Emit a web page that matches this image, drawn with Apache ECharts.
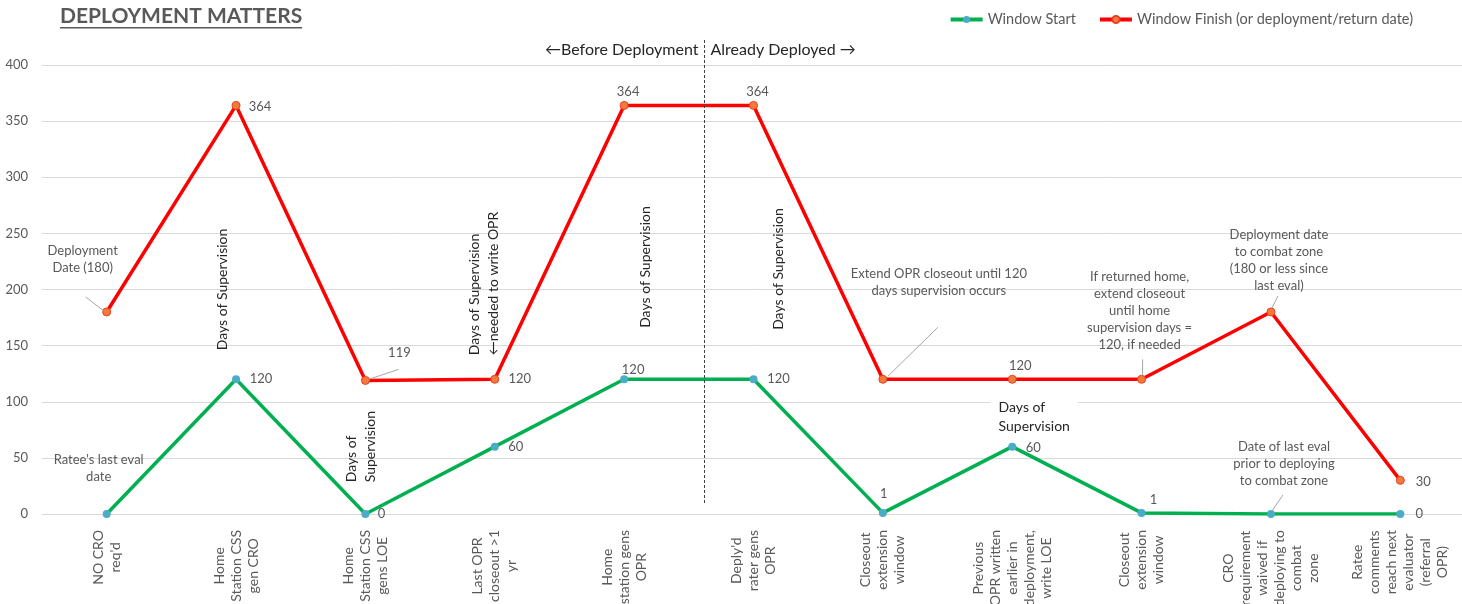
<!DOCTYPE html>
<html><head><meta charset="utf-8">
<script src="https://cdn.jsdelivr.net/npm/echarts@6/dist/echarts.min.js"></script>
<style>html,body{margin:0;padding:0;background:#fff}#c{width:1462px;height:604px}</style>
</head><body><div id="c"></div>
<script>
// ---------- data ----------
const categories = ["NO CRO\nreq'd", "Home\nStation CSS\ngen CRO", "Home\nStation CSS\ngens LOE", "Last OPR\ncloseout >1\nyr", "Home\nstation gens\nOPR", "Deply'd\nrater gens\nOPR", "Closeout\nextension\nwindow", "Previous\nOPR written\nearlier in\ndeployment,\nwrite LOE", "Closeout\nextension\nwindow", "CRO\nrequirement\nwaived if\ndeploying to\ncombat\nzone", "Ratee\ncomments\nreach next\nevaluator\n(referral\nOPR)"];
const startValues = [0, 120, 0, 60, 120, 120, 1, 60, 1, 0, 0];
const finishValues = [180, 364, 119, 120, 364, 364, 120, 120, 120, 180, 30];
const startNotes = ["Ratee's last eval\ndate", null, null, null, null, null, null, null, null, "Date of last eval\nprior to deploying\nto combat zone", null];
const finishNotes = ["Deployment\nDate (180)", null, null, null, null, null, "Extend OPR closeout until 120\ndays supervision occurs", null, "If returned home,\nextend closeout\nuntil home\nsupervision days =\n120, if needed", "Deployment date\nto combat zone\n(180 or less since\nlast eval)", null];
const yTicks = { min: 0, max: 400, interval: 50 };
const seriesNames = ["Window Start", "Window Finish (or deployment/return date)"];
const titleText = "DEPLOYMENT MATTERS";
const supervisionNotes = ["Days of Supervision", "Days of\nSupervision", "Days of Supervision\n←needed to write OPR", "Days of Supervision", "Days of Supervision", "Days of\nSupervision"];
const phaseTexts = ["←Before Deployment", "Already Deployed →"];

// ---------- layout / style (not data) ----------
const FONT = 'Lato, "Open Sans", sans-serif';
const GRAY = '#595959';
const startLabelOffsets = [[-8,-46],[25,0],[16,0],[21,0],[9,-9],[25,0],[1,-19],[21,1],[12,-13],[13,-50],[19,0]];
const finishLabelOffsets = [[-24,-53],[24,1],[34,-28],[25,0],[4,-14],[4,-14],[56,-97],[8,-13],[-2,-68],[8,-52],[23,1]];
// leader lines: [series (0 start / 1 finish), category index, from dx, from dy, to dx, to dy] (pixels from the point)
const leaderLayout = [[1,0,-3,-1,-21,-15],[1,2,3,-1,33,-11],[1,6,5,-3,55,-52],[1,8,1,-4,1,-20],[1,9,1,-4,7,-16],[0,9,1,-3,12,-19]];
// annotation anchors: [category index, value, dx, dy, rotated]
const noteAnchors = [[1,200,-14,0,true],[2,60,-4,0,true],[3,200,-10.5,-6,true],[4,220,21,0,true],[5,220,25,2,true],[7,85,22,-2,false]];

function buildData(values, notes, offsets) {
  return values.map((v, i) => ({
    value: v,
    label: { show: true, position: 'inside', offset: offsets[i],
             formatter: notes[i] != null ? notes[i] : String(v) }
  }));
}

const chart = echarts.init(document.getElementById('c'));
const labelStyle = { color: GRAY, fontSize: 13, fontFamily: FONT, lineHeight: 17 };
chart.setOption({
  animation: false,
  backgroundColor: '#fff',
  textStyle: { fontFamily: FONT },
  legend: {
    data: seriesNames, right: 44, top: 7, itemWidth: 32, itemHeight: 9, itemGap: 22,
    lineStyle: { width: 4 },
    textStyle: { color: GRAY, fontSize: 14.5, fontFamily: FONT }
  },
  grid: { left: 42, right: -3, top: 65, bottom: 90, containLabel: false, outerBoundsMode: 'none' },
  xAxis: {
    type: 'category', data: categories, boundaryGap: true,
    axisLine: { show: false }, axisTick: { show: false },
    axisLabel: {
      interval: 0, rotate: 90, margin: 16, color: GRAY, fontSize: 14, fontFamily: FONT, lineHeight: 17,
      formatter: v => v.split('\n').map(s => '{a|' + s + '}').join('\n'),
      rich: { a: { align: 'center', color: GRAY, fontSize: 14, fontFamily: FONT, lineHeight: 17 } }
    }
  },
  yAxis: {
    type: 'value', min: yTicks.min, max: yTicks.max, interval: yTicks.interval,
    axisLine: { show: false }, axisTick: { show: false },
    axisLabel: { color: GRAY, fontSize: 13, fontFamily: FONT, margin: 14 },
    splitLine: { lineStyle: { color: '#D9D9D9', width: 1 } }
  },
  series: [
    {
      name: seriesNames[0], type: 'line', data: buildData(startValues, startNotes, startLabelOffsets),
      symbol: 'circle', symbolSize: 8, z: 3,
      lineStyle: { color: '#00B050', width: 3.5 },
      itemStyle: { color: '#4BACC6' },
      label: labelStyle, emphasis: { disabled: true }
    },
    {
      name: seriesNames[1], type: 'line', data: buildData(finishValues, finishNotes, finishLabelOffsets),
      symbol: 'circle', symbolSize: 8, z: 3,
      lineStyle: { color: '#FF0000', width: 3.5 },
      itemStyle: { color: '#F47A3C', borderColor: '#E8401F', borderWidth: 1 },
      label: labelStyle, emphasis: { disabled: true }
    }
  ]
});

// ---------- annotations placed through the chart's own scales ----------
function px(cat, val) { return chart.convertToPixel({ xAxisIndex: 0, yAxisIndex: 0 }, [cat, val]); }
const graphics = [];
const seriesValues = [startValues, finishValues];
leaderLayout.forEach(l => {
  const p = px(l[1], seriesValues[l[0]][l[1]]);
  graphics.push({ type: 'line', z: 45, silent: true,
    shape: { x1: p[0] + l[2], y1: p[1] + l[3], x2: p[0] + l[4], y2: p[1] + l[5] },
    style: { stroke: '#A6A6A6', lineWidth: 1 } });
});
noteAnchors.forEach((a, i) => {
  const p = px(a[0], a[1]);
  const lines = supervisionNotes[i].split('\n').map(s => '{l|' + s + '}').join('\n');
  graphics.push({
    type: 'text', x: p[0] + a[2], y: p[1] + a[3], rotation: a[4] ? Math.PI / 2 : 0, z: 50,
    style: {
      text: lines, align: 'center', verticalAlign: 'middle', fill: '#262626',
      font: '14px ' + FONT, lineHeight: 19,
      rich: { l: { align: 'left', fontSize: 14, fontFamily: FONT, lineHeight: 19, fill: '#262626' } },
      backgroundColor: a[4] ? null : '#fff', padding: a[4] ? 0 : [2, 8]
    }
  });
});
const p4 = px(4, 0), p5 = px(5, 0);
const divX = Math.round(p4[0] + 0.62 * (p5[0] - p4[0])) + 0.5;
graphics.push({ type: 'line', z: 40, shape: { x1: divX, y1: 40, x2: divX, y2: 505 },
  style: { stroke: '#404040', lineWidth: 1, lineDash: [3, 2] } });
graphics.push({ type: 'text', x: divX - 6, y: 50, z: 50,
  style: { text: phaseTexts[0], align: 'right', verticalAlign: 'middle', fill: '#262626', font: '16px ' + FONT } });
graphics.push({ type: 'text', x: divX + 6, y: 50, z: 50,
  style: { text: phaseTexts[1], align: 'left', verticalAlign: 'middle', fill: '#262626', font: '16px ' + FONT } });
// title + underline
const ctx = document.createElement('canvas').getContext('2d');
ctx.font = 'bold 21px ' + FONT;
const tw = ctx.measureText(titleText).width;
graphics.push({ type: 'text', x: 60, y: 16, z: 50,
  style: { text: titleText, align: 'left', verticalAlign: 'middle', fill: GRAY, font: 'bold 21px ' + FONT } });
graphics.push({ type: 'rect', z: 50, shape: { x: 60, y: 27, width: tw, height: 1.5 }, style: { fill: GRAY } });
chart.setOption({ graphic: graphics });
</script>
</body></html>
